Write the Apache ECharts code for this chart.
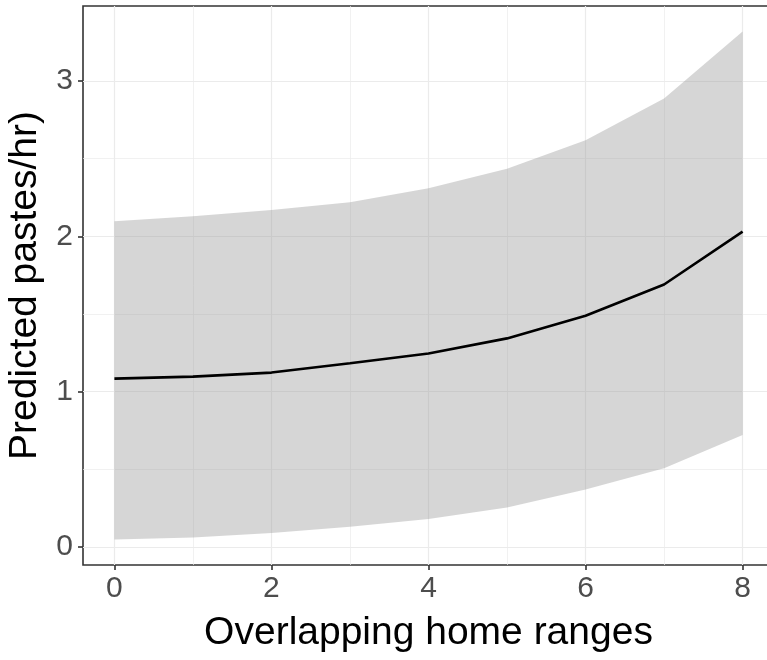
<!DOCTYPE html>
<html>
<head>
<meta charset="utf-8">
<script src="https://cdn.jsdelivr.net/npm/echarts@6/dist/echarts.min.js"></script>
<style>
  html, body { margin: 0; padding: 0; background: #ffffff; }
  #chart { width: 767px; height: 660px; }
</style>
</head>
<body>
<div id="chart"></div>
<script>
// Number of overlapping home ranges
const overlaps = [0, 1, 2, 3, 4, 5, 6, 7, 8];
// Model prediction (pastes per hour) and its confidence band
const predicted = [1.084, 1.097, 1.123, 1.183, 1.246, 1.343, 1.489, 1.69, 2.03];
const lowerCI   = [0.048, 0.061, 0.091, 0.130, 0.181, 0.255, 0.371, 0.507, 0.722];
const upperCI   = [2.097, 2.130, 2.169, 2.220, 2.310, 2.435, 2.618, 2.887, 3.319];

// Tick positions
const xMajorTicks = [0, 2, 4, 6, 8];
const xMinorTicks = [1, 3, 5, 7];
const yMajorTicks = [0, 1, 2, 3];
const yMinorTicks = [0.5, 1.5, 2.5];

// Scale limits padded by 5% of the data range on each side
const xPad = (overlaps[overlaps.length - 1] - overlaps[0]) * 0.05;
const yLo = Math.min(...lowerCI), yHi = Math.max(...upperCI);
const yPad = (yHi - yLo) * 0.05;
const xMin = overlaps[0] - xPad, xMax = overlaps[overlaps.length - 1] + xPad;
const yMin = yLo - yPad, yMax = yHi + yPad;

const FONT = '"Liberation Sans", Arial, sans-serif';
const gridColor = '#EBEBEB';

const chart = echarts.init(document.getElementById('chart'), null, { renderer: 'canvas' });

const linePts = overlaps.map((x, i) => [x, predicted[i]]);
// One item holding the whole ribbon; the polygon is built from both bounds
const bandItem = [{ value: [0, 0] }];

function renderBand(params, api) {
  const upperSide = overlaps.map((x, i) => api.coord([x, upperCI[i]]));
  const lowerSide = overlaps.map((x, i) => api.coord([x, lowerCI[i]])).reverse();
  return {
    type: 'polygon',
    shape: { points: upperSide.concat(lowerSide) },
    style: { fill: '#999999', opacity: 0.4 },
    silent: true
  };
}

chart.setOption({
  animation: false,
  backgroundColor: '#ffffff',
  grid: {
    left: 83, top: 6, width: 691, height: 559,
    outerBoundsMode: 'none', containLabel: false,
    show: true, borderColor: '#333333', borderWidth: 1.6,
    backgroundColor: 'transparent'
  },
  xAxis: [
    {
      type: 'value', min: xMin, max: xMax,
      name: 'Overlapping home ranges', nameLocation: 'middle', nameGap: 49,
      nameTextStyle: { fontFamily: FONT, fontSize: 39, color: '#000000' },
      axisLine: { show: false, onZero: false },
      axisTick: { show: true, length: 5, customValues: xMajorTicks,
                  lineStyle: { color: '#333333', width: 1.6 } },
      axisLabel: { customValues: xMajorTicks, margin: 9, fontFamily: FONT,
                   fontSize: 30, color: '#4D4D4D' },
      splitLine: { show: true, lineStyle: { color: gridColor, width: 1.2 } }
    },
    {
      type: 'value', min: xMin, max: xMax, position: 'bottom',
      axisLine: { show: false, onZero: false },
      axisTick: { show: false, customValues: xMinorTicks },
      axisLabel: { show: false, customValues: xMinorTicks },
      splitLine: { show: true, lineStyle: { color: gridColor, width: 0.7 } }
    }
  ],
  yAxis: [
    {
      type: 'value', min: yMin, max: yMax,
      name: 'Predicted pastes/hr)', nameLocation: 'middle', nameGap: 38,
      nameTextStyle: { fontFamily: FONT, fontSize: 39, color: '#000000' },
      axisLine: { show: false, onZero: false },
      axisTick: { show: true, length: 5, customValues: yMajorTicks,
                  lineStyle: { color: '#333333', width: 1.6 } },
      axisLabel: { customValues: yMajorTicks, margin: 10, fontFamily: FONT,
                   fontSize: 30, color: '#4D4D4D' },
      splitLine: { show: true, lineStyle: { color: gridColor, width: 1.2 } }
    },
    {
      type: 'value', min: yMin, max: yMax, position: 'left',
      axisLine: { show: false, onZero: false },
      axisTick: { show: false, customValues: yMinorTicks },
      axisLabel: { show: false, customValues: yMinorTicks },
      splitLine: { show: true, lineStyle: { color: gridColor, width: 0.7 } }
    }
  ],
  series: [
    {
      name: 'band', type: 'custom', data: bandItem,
      renderItem: renderBand, clip: true, z: 1
    },
    {
      name: 'predicted', type: 'line', data: linePts, z: 2,
      symbol: 'none', lineStyle: { color: '#000000', width: 2.6 }
    }
  ]
});
</script>
</body>
</html>
